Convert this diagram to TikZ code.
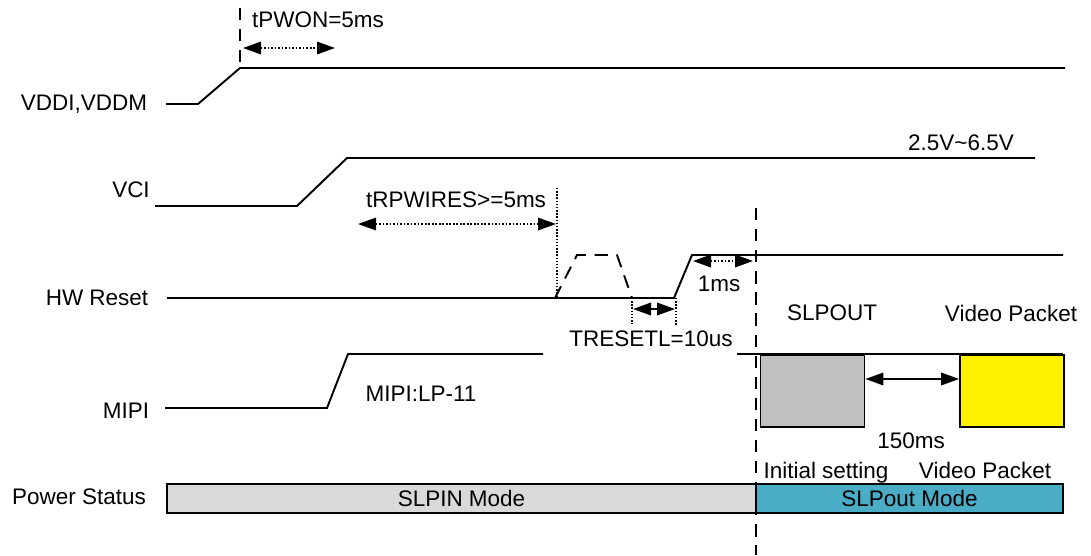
\documentclass[tikz,border=0pt]{standalone}
\usepackage{fontspec}
\setmainfont{Liberation Sans}
\usetikzlibrary{arrows.meta, positioning}

\definecolor{slpin}{HTML}{D9D9D9}
\definecolor{slpout}{HTML}{4BACC6}
\definecolor{initbox}{HTML}{C0C0C0}

\begin{document}
\begin{tikzpicture}[
    x=0.02cm, y=-0.02cm,
    sig/.style={line width=1.1pt},
    lbl/.style={font=\fontsize{12.8}{15}\selectfont, inner sep=1pt},
    dimarrow/.style={{Triangle[length=3.6mm, width=2.5mm]}-{Triangle[length=3.6mm, width=2.5mm]}, densely dotted, line width=1pt},
    solidarrow/.style={{Triangle[length=3.6mm, width=2.5mm]}-{Triangle[length=3.6mm, width=2.5mm]}, line width=1pt},
    marker/.style={densely dotted, line width=0.8pt},
    edge/.style={dash pattern=on 7pt off 5pt, line width=0.9pt},
    bar/.style={draw, line width=1pt, minimum height=0.58cm, font=\fontsize{12.8}{15}\selectfont, inner sep=0pt},
    packet/.style={draw, line width=1pt, minimum width=2.08cm, minimum height=1.44cm, inner sep=0pt},
]
    \useasboundingbox (0,0) rectangle (1091,555);

    % Signal names
    \node[lbl] (vddl) at (84,104) {VDDI,VDDM};
    \node[lbl] (vcil) at (131,190) {VCI};
    \node[lbl] (rstl) at (97,298) {HW Reset};
    \node[lbl] (mipil) at (126,411) {MIPI};
    \node[lbl] (pwrl) at (79,497) {Power Status};

    % VDDI,VDDM
    \coordinate (vdd0) at (166,104);
    \coordinate (vdd1) at (198,104);
    \coordinate (vdd2) at (240,68);
    \coordinate (vdd3) at (1065,68);
    \draw[sig] (vdd0) -- (vdd1) -- (vdd2) -- (vdd3);
    \coordinate (pwontop) at (240,8);
    \draw[edge] (pwontop) -- (vdd2);
    \coordinate (pwonA) at (243,48);
    \coordinate (pwonB) at (335,48);
    \draw[dimarrow] (pwonA) -- (pwonB);
    \node[lbl] (pwon) at (318,20) {tPWON=5ms};

    % VCI
    \coordinate (vci0) at (155,206);
    \coordinate (vci1) at (297,206);
    \coordinate (vci2) at (347,158);
    \coordinate (vci3) at (1035,158);
    \draw[sig] (vci0) -- (vci1) -- (vci2) -- (vci3);
    \node[lbl] (vcirange) at (961,143) {2.5V\textasciitilde6.5V};

    % HW Reset
    \coordinate (rst0) at (167,298);
    \coordinate (rst1) at (674,298);
    \coordinate (rst2) at (692,255);
    \coordinate (rst3) at (1063,255);
    \draw[sig] (rst0) -- (rst1) -- (rst2) -- (rst3);
    \coordinate (pulse0) at (555,298);
    \coordinate (pulse1) at (577,255);
    \coordinate (pulse2) at (617,255);
    \coordinate (pulse3) at (632,298);
    \draw[sig, dash pattern=on 7.5pt off 5pt] (pulse0) -- (pulse1) -- (pulse2) -- (pulse3);

    % tRPWIRES
    \coordinate (rpwtop) at (557,188);
    \coordinate (rpwbot) at (557,298);
    \draw[marker] (rpwtop) -- (rpwbot);
    \coordinate (rpwA) at (358,224);
    \coordinate (rpwB) at (556,224);
    \draw[dimarrow] (rpwA) -- (rpwB);
    \node[lbl] (rpw) at (456,200) {tRPWIRES>=5ms};

    % TRESETL
    \coordinate (rlA) at (632,298);
    \coordinate (rlA2) at (632,324);
    \coordinate (rlB) at (676,298);
    \coordinate (rlB2) at (676,326);
    \draw[marker] (rlA) -- (rlA2);
    \draw[marker] (rlB) -- (rlB2);
    \coordinate (rlarrA) at (633,309);
    \coordinate (rlarrB) at (675,309);
    \draw[solidarrow] (rlarrA) -- (rlarrB);
    \node[lbl] (resetl) at (651,339) {TRESETL=10us};

    % 1ms
    \coordinate (msA) at (693,261);
    \coordinate (msB) at (753,261);
    \draw[dimarrow] (msA) -- (msB);
    \node[lbl] (onems) at (719,284) {1ms};

    % MIPI
    \coordinate (mipi0) at (165,408);
    \coordinate (mipi1) at (327,408);
    \coordinate (mipi2) at (348,354);
    \coordinate (mipi3) at (543,354);
    \coordinate (mipi4) at (737,354);
    \coordinate (mipi5) at (1063,354);
    \draw[sig] (mipi0) -- (mipi1) -- (mipi2) -- (mipi3);
    \draw[sig] (mipi4) -- (mipi5);
    \node[lbl] (lp11) at (421,394) {MIPI:LP-11};

    % Sleep-out boundary
    \coordinate (slptop) at (756,208);
    \coordinate (slpbot) at (756,555);
    \draw[edge] (slptop) -- (slpbot);

    % Packets
    \node[packet, fill=initbox] (init) at (812.5,391) {};
    \node[packet, fill=yellow] (video) at (1012,391) {};
    \node[lbl] (slpoutcmd) at (832,313) {SLPOUT};
    \node[lbl] (videotop) at (1011,313) {Video Packet};
    \draw[solidarrow] (init.east |- 0,379) -- (video.west |- 0,379);
    \node[lbl] (wait) at (911,441) {150ms};
    \node[lbl] (initlbl) at (826,473) {Initial setting};
    \node[lbl] (videobot) at (985,470) {Video Packet};

    % Power status
    \node[bar, fill=slpin, minimum width=11.78cm] (slpinbar) at (461.5,498.5) {SLPIN Mode};
    \node[bar, fill=slpout, minimum width=6.14cm] (slpoutbar) at (909.5,498.5) {SLPout Mode};
\end{tikzpicture}
\end{document}
